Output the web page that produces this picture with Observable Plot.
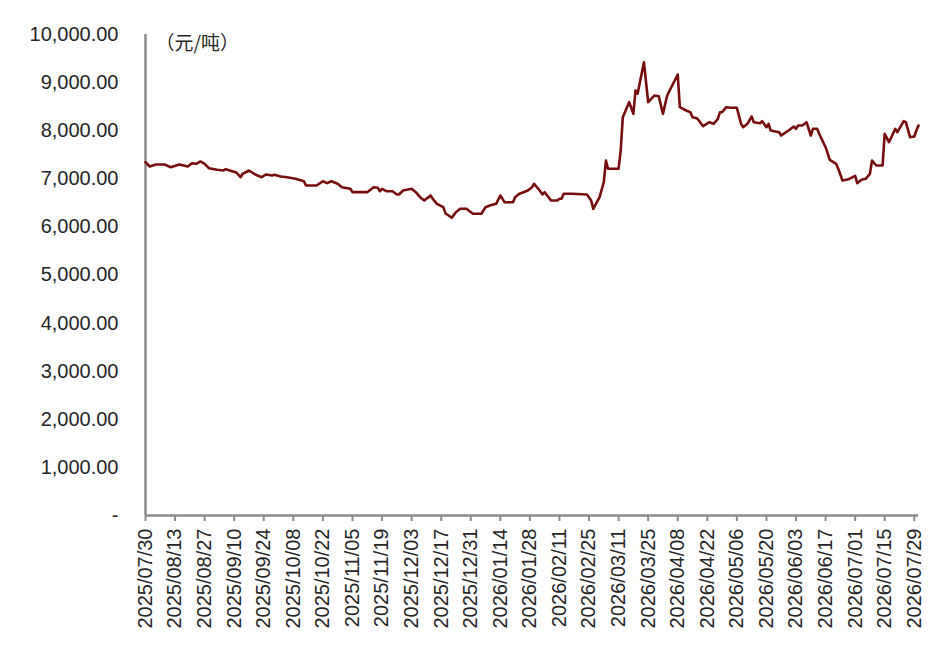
<!DOCTYPE html>
<html><head><meta charset="utf-8">
<script src="https://cdn.jsdelivr.net/npm/d3@7"></script>
<script src="https://cdn.jsdelivr.net/npm/@observablehq/plot@0.6"></script>
<style>body{margin:0;background:#fff}</style>
</head><body><div id="chart"></div>
<script>
const dates = [
"2025/07/30","2025/08/01","2025/08/04","2025/08/08","2025/08/11","2025/08/15","2025/08/19","2025/08/21","2025/08/23","2025/08/25",
"2025/08/27","2025/08/29","2025/09/02","2025/09/05","2025/09/06","2025/09/09","2025/09/11","2025/09/13","2025/09/14","2025/09/17",
"2025/09/20","2025/09/23","2025/09/25","2025/09/28","2025/09/29","2025/10/02","2025/10/05","2025/10/09","2025/10/13","2025/10/14",
"2025/10/19","2025/10/22","2025/10/24","2025/10/26","2025/10/29","2025/10/31","2025/11/04","2025/11/05","2025/11/12","2025/11/15",
"2025/11/17","2025/11/18","2025/11/19","2025/11/21","2025/11/24","2025/11/26","2025/11/27","2025/11/29","2025/12/03","2025/12/05",
"2025/12/07","2025/12/09","2025/12/10","2025/12/12","2025/12/13","2025/12/15","2025/12/18","2025/12/19","2025/12/22","2025/12/24",
"2025/12/26","2025/12/29","2025/12/30","2026/01/01","2026/01/05","2026/01/07","2026/01/09","2026/01/12","2026/01/14","2026/01/16",
"2026/01/20","2026/01/21","2026/01/23","2026/01/25","2026/01/27","2026/01/29","2026/01/30","2026/02/01","2026/02/03","2026/02/04",
"2026/02/06","2026/02/07","2026/02/10","2026/02/11","2026/02/12","2026/02/13","2026/02/17","2026/02/24","2026/02/26","2026/02/27",
"2026/03/02","2026/03/04","2026/03/05","2026/03/06","2026/03/11","2026/03/12","2026/03/13","2026/03/16","2026/03/18","2026/03/19",
"2026/03/20","2026/03/23","2026/03/25","2026/03/26","2026/03/28","2026/03/30","2026/04/01","2026/04/03","2026/04/08","2026/04/09",
"2026/04/12","2026/04/14","2026/04/15","2026/04/17","2026/04/18","2026/04/20","2026/04/23","2026/04/25","2026/04/27","2026/04/28",
"2026/04/29","2026/05/01","2026/05/03","2026/05/06","2026/05/08","2026/05/09","2026/05/11","2026/05/13","2026/05/14","2026/05/17",
"2026/05/18","2026/05/20","2026/05/21","2026/05/22","2026/05/26","2026/05/27","2026/05/30","2026/06/02","2026/06/03","2026/06/04",
"2026/06/06","2026/06/08","2026/06/10","2026/06/11","2026/06/13","2026/06/14","2026/06/17","2026/06/19","2026/06/22","2026/06/23",
"2026/06/25","2026/06/28","2026/07/01","2026/07/02","2026/07/04","2026/07/06","2026/07/08","2026/07/09","2026/07/11","2026/07/14",
"2026/07/15","2026/07/17","2026/07/20","2026/07/21","2026/07/24","2026/07/25","2026/07/27","2026/07/29","2026/07/30","2026/07/31"
];
const prices = [
7345,7256,7297,7297,7241,7297,7256,7324,7312,7360,
7312,7220,7187,7173,7200,7158,7131,7033,7104,7173,
7089,7033,7089,7069,7083,7048,7033,7000,6950,6861,
6861,6950,6909,6950,6896,6825,6792,6722,6722,6825,
6813,6742,6792,6742,6742,6674,6674,6757,6792,6722,
6618,6549,6584,6653,6584,6480,6410,6285,6189,6306,
6376,6376,6341,6272,6272,6410,6445,6480,6653,6514,
6514,6618,6688,6722,6757,6825,6896,6792,6674,6722,
6605,6549,6549,6584,6584,6688,6688,6674,6549,6376,
6618,6929,7380,7208,7208,7588,8281,8593,8351,8836,
8767,9424,8593,8642,8732,8718,8351,8732,9168,8489,
8420,8385,8281,8260,8212,8094,8177,8143,8247,8385,
8385,8489,8476,8476,8143,8073,8143,8295,8177,8156,
8198,8073,8143,8004,7969,7900,7990,8087,8039,8108,
8108,8177,7900,8039,8039,7935,7657,7395,7312,7208,
6965,6992,7062,6909,6979,7000,7104,7380,7277,7277,
7935,7761,8039,7969,8198,8177,7865,7879,8004,8108
];
const tickDates = [
"2025/07/30","2025/08/13","2025/08/27","2025/09/10","2025/09/24","2025/10/08","2025/10/22",
"2025/11/05","2025/11/19","2025/12/03","2025/12/17","2025/12/31","2026/01/14","2026/01/28",
"2026/02/11","2026/02/25","2026/03/11","2026/03/25","2026/04/08","2026/04/22","2026/05/06",
"2026/05/20","2026/06/03","2026/06/17","2026/07/01","2026/07/15","2026/07/29"
];
const yTicks = [0,1000,2000,3000,4000,5000,6000,7000,8000,9000,10000];
const xStart = "2025/07/30", xEnd = "2026/07/31";
const unitLabel = "（元/吨）";

const parse = d3.utcParse("%Y/%m/%d");
const data = dates.map((d, i) => ({date: parse(d), price: prices[i]}));
const fmt = d3.format(",.2f");

const chart = Plot.plot({
  width: 947, height: 651,
  marginLeft: 145, marginRight: 29, marginTop: 34, marginBottom: 136,
  style: {fontFamily: "'Liberation Sans', Arial, sans-serif", background: "#fff", color: "#1a1a1a"},
  x: {type: "utc", domain: [parse(xStart), parse(xEnd)]},
  y: {domain: [0, 10000]},
  marks: [
    Plot.axisY({ticks: yTicks, tickSize: 0, tickPadding: 27, fontSize: 20, fill: "#262626", label: null,
      tickFormat: d => d === 0 ? "-" : fmt(d)}),
    Plot.axisX({ticks: tickDates.map(parse), tickFormat: d3.utcFormat("%Y/%m/%d"), label: null,
      tickRotate: -90, tickSize: 6, tickPadding: 7, fontSize: 20, stroke: "#8c8c8c", strokeWidth: 2, fill: "#262626"}),
    Plot.ruleY([0], {stroke: "#8c8c8c", strokeWidth: 2.5}),
    Plot.ruleX([parse(xStart)], {stroke: "#8c8c8c", strokeWidth: 2.5}),
    Plot.line(data, {x: "date", y: "price", stroke: "#760e10", strokeWidth: 2.6}),
    Plot.text([unitLabel], {frameAnchor: "top-left", dx: 10, dy: 9, textAnchor: "start", lineAnchor: "middle",
      fontSize: 19, fill: "#262626", fontFamily: "'Noto Sans CJK SC', sans-serif"})
  ]
});
document.getElementById("chart").appendChild(chart);
</script>
</body></html>
